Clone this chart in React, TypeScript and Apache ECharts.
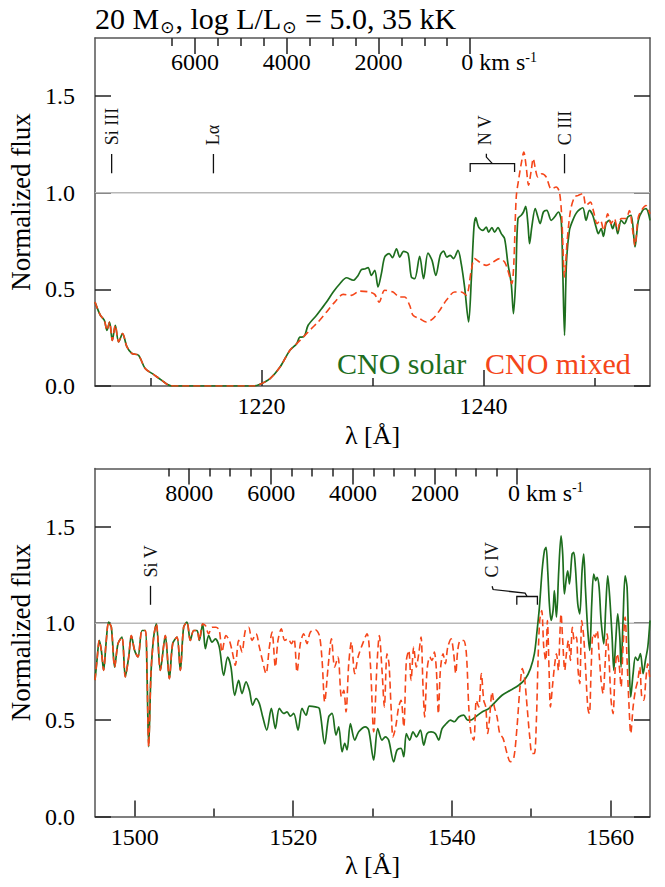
import React, { useEffect, useRef } from 'react';
import * as echarts from 'echarts';

const FONT = '"Liberation Serif", "Times New Roman", serif';
const SPEED_OF_LIGHT = 299792.458;

// ---------- shared axis values ----------
const fluxTicks = [0, 0.5, 1.0, 1.5];
const fluxRange = [0, 1.8];
const continuumLevel = 1.0;
const seriesNames = ['CNO solar', 'CNO mixed'];

// ---------- top panel (N V region) ----------
const topRange = [1205, 1255];
const topRestWave = 1238.8;
const topWaveMajor = [1220, 1240];
const topWaveMinor = [1210, 1230, 1250];
const topVelMajor = [0, 2000, 4000, 6000];
const topVelMinor = [500, 1000, 1500, 2500, 3000, 3500, 4500, 5000, 5500, 6500];
const topLineNames = ['Si III', 'Lα', 'N V', 'C III'];
const topLineFrom = [1206.5, 1215.67, 1238.8, 1247.3];
const topLineTo = [1206.5, 1215.67, 1242.8, 1247.3];

const topShared = [
  [1205.0, 0.434], [1205.48, 0.366], [1205.84, 0.34], [1206.08, 0.288], [1206.31, 0.331],
  [1206.56, 0.236], [1206.83, 0.314], [1207.13, 0.228], [1207.48, 0.271], [1207.88, 0.202],
  [1208.33, 0.168], [1208.92, 0.159], [1209.52, 0.09], [1210.27, 0.06], [1211.02, 0.029],
  [1211.77, 0.002], [1212.5, 0], [1219.26, 0], [1219.87, 0.009], [1220.77, 0.038],
  [1221.67, 0.098], [1222.56, 0.185], [1223.17, 0.219],
];
const topSolar = [
  [1223.46, 0.253], [1223.62, 0.253], [1223.9, 0.262], [1224.2, 0.314], [1224.96, 0.366],
  [1225.41, 0.4], [1225.86, 0.434], [1226.46, 0.486], [1227.06, 0.529], [1227.66, 0.56],
  [1228.26, 0.547], [1228.7, 0.572], [1229.0, 0.602], [1229.3, 0.605], [1229.6, 0.612],
  [1229.9, 0.572], [1230.2, 0.598], [1230.5, 0.512], [1230.8, 0.581], [1231.1, 0.667],
  [1231.5, 0.685], [1231.8, 0.664], [1232.16, 0.71], [1232.46, 0.667], [1232.8, 0.696],
  [1233.2, 0.685], [1233.5, 0.564], [1233.8, 0.555], [1234.25, 0.671], [1234.6, 0.555],
  [1235.0, 0.688], [1235.36, 0.65], [1235.7, 0.572], [1236.1, 0.676], [1236.4, 0.698],
  [1236.7, 0.667], [1237.0, 0.676], [1237.3, 0.659], [1237.7, 0.702], [1238.0, 0.63],
  [1238.3, 0.51], [1238.66, 0.331], [1238.9, 0.547], [1239.14, 0.822], [1239.3, 0.871],
  [1239.56, 0.822], [1239.95, 0.805], [1240.25, 0.822], [1240.46, 0.796], [1240.76, 0.819],
  [1241.0, 0.796], [1241.3, 0.819], [1241.6, 0.788], [1241.9, 0.762], [1242.2, 0.633],
  [1242.5, 0.529], [1242.7, 0.374], [1242.9, 0.547], [1243.1, 0.866], [1243.4, 0.883],
  [1243.6, 0.9], [1243.8, 0.929], [1244.0, 0.84], [1244.15, 0.736], [1244.35, 0.822],
  [1244.66, 0.917], [1244.9, 0.874], [1245.1, 0.84], [1245.4, 0.9], [1245.7, 0.908],
  [1246.1, 0.857], [1246.4, 0.874], [1246.75, 0.9], [1247.0, 0.857], [1247.14, 0.598],
  [1247.3, 0.262], [1247.47, 0.633], [1247.74, 0.805], [1248.04, 0.857], [1248.43, 0.9],
  [1248.94, 0.922], [1249.24, 0.857], [1249.54, 0.908], [1249.84, 0.883], [1250.14, 0.822],
  [1250.35, 0.788], [1250.6, 0.814], [1250.8, 0.774], [1251.04, 0.84], [1251.34, 0.857],
  [1251.64, 0.814], [1251.85, 0.848], [1252.09, 0.788], [1252.4, 0.857], [1252.7, 0.84],
  [1253.0, 0.874], [1253.3, 0.883], [1253.65, 0.719], [1253.95, 0.857], [1254.33, 0.908],
  [1254.64, 0.917], [1255.0, 0.857],
];
const topMixed = [
  [1223.76, 0.253], [1224.5, 0.297], [1225.1, 0.331], [1225.86, 0.383], [1226.6, 0.434],
  [1227.36, 0.474], [1228.1, 0.469], [1228.86, 0.491], [1229.76, 0.486], [1230.2, 0.474],
  [1230.6, 0.434], [1231.1, 0.495], [1231.85, 0.486], [1232.46, 0.46], [1232.9, 0.46],
  [1233.35, 0.417], [1233.65, 0.366], [1234.25, 0.348], [1234.85, 0.331], [1235.45, 0.348],
  [1236.05, 0.391], [1236.65, 0.443], [1237.4, 0.486], [1238.0, 0.486], [1238.45, 0.47],
  [1238.9, 0.598], [1239.2, 0.659], [1239.65, 0.641], [1240.25, 0.624], [1240.85, 0.641],
  [1241.45, 0.659], [1241.9, 0.641], [1242.2, 0.598], [1242.55, 0.529], [1242.73, 0.633],
  [1242.95, 0.977], [1243.2, 1.08], [1243.4, 1.15], [1243.63, 1.21], [1243.85, 1.132],
  [1244.06, 1.038], [1244.3, 1.115], [1244.48, 1.176], [1244.7, 1.115], [1244.9, 1.081],
  [1245.25, 1.098], [1245.65, 1.081], [1246.1, 1.02], [1246.55, 1.029], [1246.84, 1.003],
  [1247.05, 0.874], [1247.3, 0.564], [1247.54, 0.753], [1247.84, 0.908], [1248.2, 0.977],
  [1248.55, 0.986], [1248.94, 0.995], [1249.24, 0.934], [1249.63, 0.951], [1249.93, 0.9],
  [1250.23, 0.84], [1250.53, 0.857], [1250.83, 0.805], [1251.19, 0.891], [1251.49, 0.84],
  [1251.79, 0.866], [1252.09, 0.805], [1252.4, 0.866], [1252.84, 0.866], [1253.14, 0.908],
  [1253.44, 0.805], [1253.65, 0.727], [1253.95, 0.874], [1254.33, 0.917], [1254.64, 0.934],
  [1255.0, 0.891],
];

// ---------- bottom panel (C IV region) ----------
const bottomRange = [1495, 1565];
const bottomRestWave = 1548.2;
const bottomWaveMajor = [1500, 1520, 1540, 1560];
const bottomWaveMinor = [1510, 1530, 1550];
const bottomVelMajor = [0, 2000, 4000, 6000, 8000];
const bottomVelMinor = [500, 1000, 1500, 2500, 3000, 3500, 4500, 5000, 5500, 6500, 7000, 7500, 8500];
const bottomLineNames = ['Si V', 'C IV'];
const bottomLineFrom = [1502.0, 1548.2];
const bottomLineTo = [1502.0, 1550.8];

const bottomShared = [
  [1495.0, 0.705], [1495.25, 0.808], [1495.54, 0.911], [1495.8, 0.859], [1496.09, 0.756],
  [1496.39, 0.894], [1496.72, 1.005], [1497.06, 0.979], [1497.48, 0.773], [1497.9, 0.894],
  [1498.4, 0.928], [1498.82, 0.722], [1499.25, 0.825], [1499.58, 0.936], [1500.0, 0.859],
  [1500.42, 0.825], [1500.93, 0.962], [1501.35, 0.962], [1501.56, 0.739], [1501.77, 0.361],
  [1502.06, 0.739], [1502.4, 0.928], [1502.74, 0.997], [1503.24, 0.756], [1503.87, 0.936],
  [1504.38, 0.713], [1504.8, 0.894], [1505.34, 0.928], [1505.76, 0.756], [1506.18, 0.979],
  [1506.6, 1.005], [1507.02, 0.911], [1507.45, 0.962], [1507.87, 0.962], [1508.16, 0.911],
  [1508.58, 0.997],
];
const bottomSolar = [
  [1508.92, 0.868], [1509.34, 0.936], [1509.76, 0.902], [1510.18, 0.919], [1510.68, 0.876],
  [1511.23, 0.73], [1511.73, 0.825], [1512.15, 0.773], [1512.62, 0.627], [1513.12, 0.704],
  [1513.54, 0.636], [1514.05, 0.696], [1514.47, 0.653], [1514.89, 0.576], [1515.31, 0.61],
  [1515.73, 0.584], [1516.15, 0.516], [1516.66, 0.447], [1517.24, 0.559], [1517.75, 0.455],
  [1518.25, 0.559], [1518.8, 0.533], [1519.22, 0.541], [1519.64, 0.519], [1520.06, 0.533],
  [1520.61, 0.447], [1521.11, 0.559], [1521.62, 0.524], [1522.04, 0.571], [1522.8, 0.567],
  [1523.3, 0.559], [1523.97, 0.375], [1524.48, 0.516], [1524.9, 0.533], [1525.4, 0.421],
  [1525.74, 0.464], [1526.16, 0.335], [1526.5, 0.378], [1526.79, 0.344], [1527.21, 0.481],
  [1527.76, 0.395], [1528.26, 0.438], [1529.1, 0.464], [1529.52, 0.447], [1530.15, 0.292],
  [1530.66, 0.455], [1531.2, 0.395], [1531.62, 0.412], [1532.04, 0.395], [1532.67, 0.283],
  [1533.1, 0.344], [1533.6, 0.352], [1533.94, 0.309], [1534.27, 0.429], [1534.69, 0.395],
  [1535.11, 0.438], [1535.53, 0.412], [1536.04, 0.447], [1536.46, 0.369], [1536.88, 0.429],
  [1537.38, 0.438], [1537.93, 0.429], [1538.35, 0.395], [1538.77, 0.455], [1539.32, 0.481],
  [1539.82, 0.498], [1540.33, 0.49], [1540.87, 0.515], [1541.5, 0.524], [1542.01, 0.498],
  [1542.35, 0.498], [1542.98, 0.515], [1543.82, 0.541], [1544.66, 0.558], [1545.5, 0.593],
  [1546.34, 0.627], [1547.39, 0.653], [1548.44, 0.679], [1549.28, 0.713], [1549.92, 0.765],
  [1550.42, 0.842], [1550.76, 0.962], [1551.05, 1.082], [1551.39, 1.271], [1551.68, 1.374],
  [1551.89, 1.392], [1552.1, 1.271], [1552.31, 1.099], [1552.52, 1.014], [1552.77, 1.065],
  [1552.94, 1.168], [1553.2, 1.031], [1553.49, 1.271], [1553.78, 1.452], [1553.99, 1.357],
  [1554.2, 1.151], [1554.46, 1.237], [1554.62, 1.271], [1554.84, 1.203], [1555.17, 1.357],
  [1555.38, 1.366], [1555.59, 1.289], [1555.89, 1.099], [1556.14, 1.048], [1556.43, 1.271],
  [1556.64, 1.357], [1556.85, 1.185], [1557.15, 0.962], [1557.4, 0.859], [1557.65, 1.099],
  [1557.9, 1.254], [1558.16, 1.22], [1558.33, 1.237], [1558.58, 1.185], [1558.83, 1.014],
  [1559.17, 0.893], [1559.42, 1.082], [1559.67, 1.245], [1559.92, 1.134], [1560.22, 0.928],
  [1560.43, 0.756], [1560.68, 0.91], [1560.93, 1.048], [1561.19, 0.928], [1561.35, 0.773],
  [1561.6, 1.014], [1561.86, 1.245], [1562.11, 1.185], [1562.32, 0.876], [1562.57, 0.618],
  [1562.87, 0.739], [1563.16, 0.825], [1563.46, 0.807], [1563.79, 0.842], [1564.13, 0.739],
  [1564.42, 0.807], [1564.72, 0.876], [1565.0, 1.014],
];
const bottomMixed = [
  [1508.92, 0.988], [1509.34, 0.945], [1509.76, 0.979], [1510.26, 0.979], [1510.68, 0.962],
  [1511.02, 0.851], [1511.52, 0.936], [1511.94, 0.911], [1512.28, 0.859], [1512.7, 0.782],
  [1513.12, 0.911], [1513.54, 0.851], [1513.96, 0.962], [1514.38, 0.979], [1514.8, 0.911],
  [1515.31, 0.945], [1515.73, 0.876], [1516.07, 0.816], [1516.57, 0.739], [1516.99, 0.876],
  [1517.33, 0.954], [1517.75, 0.773], [1518.08, 0.911], [1518.5, 0.971], [1518.93, 0.911],
  [1519.35, 0.919], [1519.77, 0.894], [1520.1, 0.919], [1520.48, 0.747], [1520.9, 0.894],
  [1521.32, 0.945], [1521.74, 0.894], [1522.16, 0.954], [1522.8, 0.966], [1523.3, 0.936],
  [1523.64, 0.808], [1523.97, 0.593], [1524.4, 0.773], [1524.82, 0.919], [1525.23, 0.773],
  [1525.65, 0.825], [1526.08, 0.619], [1526.37, 0.653], [1526.66, 0.541], [1527.0, 0.79],
  [1527.34, 0.902], [1527.76, 0.739], [1528.18, 0.825], [1528.68, 0.885], [1529.31, 0.945],
  [1529.73, 0.79], [1530.15, 0.438], [1530.57, 0.79], [1530.86, 0.936], [1531.2, 0.756],
  [1531.5, 0.567], [1531.83, 0.842], [1532.08, 0.79], [1532.34, 0.567], [1532.59, 0.412],
  [1532.93, 0.464], [1533.3, 0.567], [1533.6, 0.601], [1533.94, 0.464], [1534.27, 0.807],
  [1534.57, 0.859], [1534.86, 0.704], [1535.2, 0.876], [1535.53, 0.773], [1535.83, 0.842],
  [1536.12, 0.928], [1536.37, 0.67], [1536.58, 0.515], [1536.88, 0.756], [1537.22, 0.825],
  [1537.51, 0.807], [1537.8, 0.85], [1538.06, 0.756], [1538.31, 0.532], [1538.56, 0.756],
  [1538.9, 0.842], [1539.19, 0.79], [1539.49, 0.876], [1539.91, 0.919], [1540.24, 0.842],
  [1540.5, 0.739], [1540.75, 0.859], [1541.08, 0.91], [1541.5, 0.91], [1541.84, 0.842],
  [1542.14, 0.567], [1542.43, 0.429], [1542.77, 0.395], [1543.1, 0.601], [1543.4, 0.567],
  [1543.73, 0.739], [1544.03, 0.601], [1544.28, 0.567], [1544.53, 0.429], [1544.78, 0.515],
  [1545.08, 0.644], [1545.37, 0.567], [1545.71, 0.515], [1546.05, 0.429], [1546.47, 0.404],
  [1546.97, 0.326], [1547.39, 0.283], [1547.81, 0.3], [1548.23, 0.464], [1548.57, 0.653],
  [1548.9, 0.765], [1549.16, 0.722], [1549.5, 0.567], [1549.83, 0.412], [1550.12, 0.326],
  [1550.42, 0.326], [1550.67, 0.498], [1550.88, 0.807], [1551.09, 1.014], [1551.34, 1.065],
  [1551.6, 0.876], [1551.85, 0.807], [1552.06, 1.014], [1552.27, 0.756], [1552.44, 0.567],
  [1552.69, 0.67], [1552.94, 0.773], [1553.2, 0.842], [1553.45, 0.756], [1553.62, 0.928],
  [1553.78, 1.048], [1553.99, 0.91], [1554.25, 0.756], [1554.46, 0.842], [1554.71, 0.91],
  [1554.96, 0.807], [1555.21, 0.979], [1555.47, 0.91], [1555.72, 0.928], [1555.93, 0.756],
  [1556.14, 0.687], [1556.39, 1.014], [1556.64, 0.928], [1556.89, 0.756], [1557.15, 0.567],
  [1557.36, 0.532], [1557.57, 0.756], [1557.82, 0.945], [1558.07, 0.928], [1558.33, 0.962],
  [1558.58, 0.842], [1558.83, 0.704], [1559.08, 0.636], [1559.34, 0.79], [1559.59, 0.945],
  [1559.84, 0.807], [1560.09, 0.601], [1560.34, 0.532], [1560.6, 0.756], [1560.85, 0.842],
  [1561.1, 0.79], [1561.35, 0.67], [1561.6, 0.876], [1561.86, 1.031], [1562.11, 0.807],
  [1562.36, 0.567], [1562.57, 0.429], [1562.87, 0.567], [1563.16, 0.653], [1563.46, 0.704],
  [1563.71, 0.773], [1563.96, 0.618], [1564.22, 0.601], [1564.47, 0.704], [1564.72, 0.79],
  [1565.0, 0.704],
];

// ---------- styling ----------
const GREEN = '#1e6e1e';
const RED = '#f5461a';
const FRAME = { color: '#555', width: 1.5 };
const TICK = { color: '#222', width: 1.5 };
const TXT = { fontFamily: FONT, color: '#000' };

const velocityAt = (rest: number, wl: number) => (SPEED_OF_LIGHT * (rest - wl)) / rest;

type AnnStyle = {
  low: number; high: number; textBase: number; bracket: number; bracketEnd: number;
  path: number[][]; labelDx: number;
};
const topAnnStyle: AnnStyle = {
  low: 1.1, high: 1.2, textBase: 1.245, bracket: 1.15, bracketEnd: 1.107,
  path: [[0, 1.15], [-6, 1.184], [-6, 1.201]], labelDx: -7,
};
const bottomAnnStyle: AnnStyle = {
  low: 1.095, high: 1.193, textBase: 1.236, bracket: 1.138, bracketEnd: 1.095,
  path: [[0, 1.138], [-2, 1.155], [-34, 1.174], [-35, 1.191]], labelDx: -35,
};

function annotationRenderer(names: string[], st: AnnStyle) {
  return (params: any, api: any) => {
    const i = params.dataIndex;
    const a = api.value(0);
    const b = api.value(2);
    const ink = { stroke: '#111', lineWidth: 1.3, fill: null };
    const children: any[] = [];
    let lx: number;
    if (a === b) {
      const p1 = api.coord([a, st.low]);
      const p2 = api.coord([a, st.high]);
      children.push({ type: 'line', shape: { x1: p1[0], y1: p1[1], x2: p2[0], y2: p2[1] }, style: ink });
      lx = p1[0];
    } else {
      const pa = api.coord([a, st.bracket]);
      const pb = api.coord([b, st.bracket]);
      const ye = api.coord([a, st.bracketEnd])[1];
      children.push({
        type: 'polyline',
        shape: { points: [[pa[0], ye], [pa[0], pa[1]], [pb[0], pb[1]], [pb[0], ye]] },
        style: ink,
      });
      const cx = (pa[0] + pb[0]) / 2;
      children.push({
        type: 'polyline',
        shape: { points: st.path.map(([dx, f]) => [cx + dx, api.coord([a, f])[1]]) },
        style: ink,
      });
      lx = cx + st.labelDx;
    }
    const ty = api.coord([a, st.textBase])[1];
    children.push({
      type: 'text', x: lx, y: ty, rotation: Math.PI / 2,
      style: {
        text: names[i], fill: '#111', fontSize: 18, fontFamily: FONT,
        align: 'left', verticalAlign: 'middle',
      },
    });
    return { type: 'group', children };
  };
}

function panelAxes(mainGrid: number, minorGrid: number, range: number[], rest: number,
  waveMajor: number[], waveMinor: number[], velMajor: number[], velMinor: number[]) {
  const vMin = velocityAt(rest, range[1]);
  const vMax = velocityAt(rest, range[0]);
  const xAxes = [
    {
      gridIndex: mainGrid, type: 'value', position: 'bottom', min: range[0], max: range[1],
      axisLine: { show: true, onZero: false, lineStyle: FRAME },
      axisTick: { show: true, inside: true, length: 16, customValues: waveMajor, lineStyle: TICK },
      axisLabel: {
        show: true, customValues: waveMajor, fontSize: 24, margin: 8, ...TXT,
        formatter: (v: number) => String(Math.round(v)),
      },
      splitLine: { show: false },
      name: 'λ [Å]', nameLocation: 'middle', nameGap: 36,
      nameTextStyle: { fontSize: 26, ...TXT },
    },
    {
      gridIndex: mainGrid, type: 'value', position: 'top', min: vMin, max: vMax, inverse: true,
      axisLine: { show: true, onZero: false, lineStyle: FRAME },
      axisTick: { show: true, inside: true, length: 16, customValues: velMajor, lineStyle: TICK },
      axisLabel: {
        show: true, inside: true, customValues: velMajor, fontSize: 24, margin: 12, ...TXT,
        formatter: (v: number) => (Math.abs(v) < 1e-6 ? '{p| }0 km s{sup|-1}' : String(Math.round(v))),
        rich: {
          p: { width: 58, fontSize: 24, fontFamily: FONT },
          sup: { fontSize: 14, fontFamily: FONT, verticalAlign: 'top', lineHeight: 14, color: '#000' },
        },
      },
      splitLine: { show: false },
    },
    {
      gridIndex: minorGrid, type: 'value', position: 'bottom', min: range[0], max: range[1],
      axisLine: { show: false, onZero: false },
      axisTick: { show: true, inside: true, length: 8, customValues: waveMinor, lineStyle: TICK },
      axisLabel: { show: false }, splitLine: { show: false },
    },
    {
      gridIndex: minorGrid, type: 'value', position: 'top', min: vMin, max: vMax, inverse: true,
      axisLine: { show: false, onZero: false },
      axisTick: { show: true, inside: true, length: 8, customValues: velMinor, lineStyle: TICK },
      axisLabel: { show: false }, splitLine: { show: false },
    },
  ];
  const yAxes = [
    {
      gridIndex: mainGrid, type: 'value', position: 'left', min: fluxRange[0], max: fluxRange[1],
      axisLine: { show: true, onZero: false, lineStyle: FRAME },
      axisTick: { show: true, inside: true, length: 16, customValues: fluxTicks, lineStyle: TICK },
      axisLabel: {
        show: true, customValues: fluxTicks, fontSize: 24, margin: 20, ...TXT,
        formatter: (v: number) => v.toFixed(1),
      },
      splitLine: { show: false },
      name: 'Normalized flux', nameLocation: 'middle', nameGap: 54, nameRotate: 90,
      nameTextStyle: { fontSize: 27, padding: [0, 0, 0, 20], ...TXT },
    },
    {
      gridIndex: mainGrid, type: 'value', position: 'right', min: fluxRange[0], max: fluxRange[1],
      axisLine: { show: true, onZero: false, lineStyle: FRAME },
      axisTick: { show: true, inside: true, length: 16, customValues: fluxTicks, lineStyle: TICK },
      axisLabel: { show: false }, splitLine: { show: false },
    },
    {
      gridIndex: minorGrid, type: 'value', show: false, min: fluxRange[0], max: fluxRange[1],
      splitLine: { show: false },
    },
  ];
  return { xAxes, yAxes };
}

function panelSeries(xIdx: number, yIdx: number, range: number[], shared: number[][],
  solar: number[][], mixed: number[][], names: string[], from: number[], to: number[], st: AnnStyle) {
  return [
    {
      type: 'line', xAxisIndex: xIdx, yAxisIndex: yIdx, silent: true, z: 1,
      data: range.map((w) => [w, continuumLevel]), showSymbol: false,
      lineStyle: { color: '#b8b8b8', width: 1.5 },
    },
    {
      name: seriesNames[0], type: 'line', xAxisIndex: xIdx, yAxisIndex: yIdx, z: 2,
      data: [...shared, ...solar], showSymbol: false, smooth: 0.3,
      lineStyle: { color: GREEN, width: 1.7 }, itemStyle: { color: GREEN },
    },
    {
      name: seriesNames[1], type: 'line', xAxisIndex: xIdx, yAxisIndex: yIdx, z: 3,
      data: [...shared, ...mixed], showSymbol: false, smooth: 0.3,
      lineStyle: { color: RED, width: 1.6, type: [7, 4] }, itemStyle: { color: RED },
    },
    {
      type: 'custom', xAxisIndex: xIdx, yAxisIndex: yIdx, z: 4, silent: true,
      encode: { x: 0, y: 1 },
      data: from.map((f, i) => [f, st.high, to[i]]),
      renderItem: annotationRenderer(names, st),
    },
  ];
}

export default function App() {
  const ref = useRef<HTMLDivElement>(null);
  useEffect(() => {
    if (!ref.current) return;
    const chart = echarts.init(ref.current, undefined, { renderer: 'svg' });
    const top = panelAxes(0, 1, topRange, topRestWave, topWaveMajor, topWaveMinor, topVelMajor, topVelMinor);
    const bot = panelAxes(2, 3, bottomRange, bottomRestWave, bottomWaveMajor, bottomWaveMinor, bottomVelMajor, bottomVelMinor);
    const gridBox = (t: number) => ({ left: 95, top: t, width: 555, height: 348, outerBoundsMode: 'none', containLabel: false });
    const option: any = {
      animation: false,
      backgroundColor: '#fff',
      textStyle: { fontFamily: FONT },
      grid: [gridBox(38), gridBox(38), gridBox(468.5), gridBox(468.5)],
      xAxis: [...top.xAxes, ...bot.xAxes],
      yAxis: [...top.yAxes, ...bot.yAxes],
      series: [
        ...panelSeries(0, 0, topRange, topShared, topSolar, topMixed, topLineNames, topLineFrom, topLineTo, topAnnStyle),
        ...panelSeries(4, 3, bottomRange, bottomShared, bottomSolar, bottomMixed, bottomLineNames, bottomLineFrom, bottomLineTo, bottomAnnStyle),
      ],
      graphic: [
        {
          type: 'text', left: 95, top: 3,
          style: {
            text: '{a|20 M}{s|⊙}{a|, log L/L}{s|⊙}{a| = 5.0, 35 kK}',
            fill: '#000',
            rich: {
              a: { fontSize: 30, lineHeight: 34, fontFamily: FONT, fill: '#000' },
              s: { fontSize: 17, lineHeight: 12, fontFamily: 'DejaVu Sans', verticalAlign: 'bottom', fill: '#000', padding: [0, 1, 0, 1] },
            },
          },
        },
        {
          type: 'text', left: 337, top: 348,
          style: { text: seriesNames[0], fill: GREEN, fontSize: 30, fontFamily: FONT },
        },
        {
          type: 'text', left: 485, top: 348,
          style: { text: seriesNames[1], fill: RED, fontSize: 30, fontFamily: FONT },
        },
      ],
    };
    chart.setOption(option);
    return () => chart.dispose();
  }, []);
  return <div ref={ref} style={{ position: 'absolute', left: 0, top: 0, width: 665, height: 887 }} />;
}
